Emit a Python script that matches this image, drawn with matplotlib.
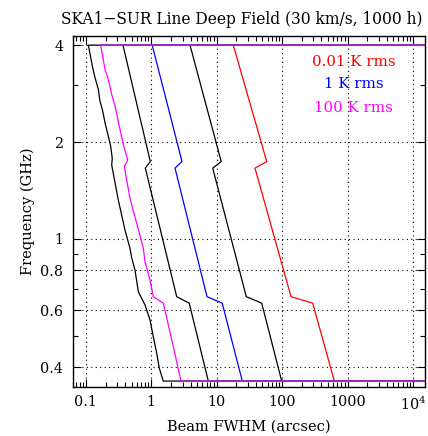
import numpy as np
import matplotlib.pyplot as plt
from matplotlib.ticker import FixedLocator, NullFormatter

plt.rcParams['font.family'] = ['DejaVu Serif']
plt.rcParams['mathtext.fontset'] = 'dejavuserif'

# frequency band edges (GHz)
f_min, f_max = 0.362, 4.0
x_edge = 1e5   # curves run off to the right edge at the band limits

# leftmost black curve and the 100 K rms curve (noisy, more samples)
freq_b1 = [4.0, 3.401, 3.167, 2.915, 2.682, 2.496, 2.296, 2.088, 1.944, 1.780, 1.697,
           1.321, 1.066, 0.936, 0.873, 0.801, 0.686, 0.624, 0.561, 0.497, 0.442, 0.397, 0.362]
beam_b1 = [0.109, 0.127, 0.138, 0.155, 0.164, 0.181, 0.196, 0.220, 0.239, 0.253, 0.248,
           0.313, 0.396, 0.472, 0.502, 0.563, 0.633, 0.801, 0.955, 1.073, 1.209, 1.325, 1.526]

freq_100k = [4.0, 3.363, 3.131, 2.812, 2.587, 2.242, 1.968, 1.759, 1.676, 1.338, 1.119,
             0.936, 0.850, 0.746, 0.662, 0.632, 0.463, 0.362]
beam_100k = [0.168, 0.196, 0.220, 0.248, 0.279, 0.324, 0.373, 0.436, 0.387, 0.472, 0.598,
             0.755, 0.801, 0.955, 1.073, 1.526, 2.17, 2.845]

# smoother curves, sampled at the sub-band edges
freq_band = [4.0, 1.74, 1.66, 0.662, 0.632, 0.362]
beam_b2 = [0.369, 0.965, 0.810, 2.446, 3.798, 7.44]
beam_1k = [1.032, 2.946, 2.304, 7.108, 12.14, 24.63]
beam_b3 = [3.906, 11.72, 8.687, 28.35, 48.76, 98.6]
beam_001k = [17.94, 58.15, 38.5, 136.8, 293.7, 628.5]

xticks = [0.1, 1, 10, 100, 1000, 1e4]
xticklabels = ['0.1', '1', '10', '100', '1000', r'$10^4$']
yticks = [0.4, 0.6, 0.8, 1, 2, 4]
yticklabels = ['0.4', '0.6', '0.8', '1', '2', '4']


def closed(beam, freq):
    # add the horizontal runs to the right edge at the band limits
    x = np.concatenate([[x_edge], beam, [x_edge]])
    y = np.concatenate([[freq[0]], freq, [freq[-1]]])
    return x, y


fig = plt.figure(figsize=(4.28, 4.36), dpi=100)
ax = fig.add_axes([73/428, 1-387/436, 352/428, 351/436])

for beam, freq, col in [(beam_b1, freq_b1, 'black'),
                        (beam_b2, freq_band, 'black'),
                        (beam_b3, freq_band, 'black'),
                        (beam_001k, freq_band, 'red'),
                        (beam_1k, freq_band, 'blue'),
                        (beam_100k, freq_100k, 'magenta')]:
    x, y = closed(beam, freq)
    ax.plot(x, y, color=col, lw=0.9)

# overlapping band-edge runs look purple
ax.plot([beam_100k[0], x_edge], [f_max, f_max], color='#9a30c0', lw=1.2)
ax.plot([beam_100k[-1], x_edge], [f_min, f_min], color='#9a30c0', lw=1.2)

ax.set_xscale('log')
ax.set_yscale('log')
ax.set_xlim(0.0635, 15300)
ax.set_ylim(0.347, 4.27)

ax.xaxis.set_major_locator(FixedLocator(xticks))
ax.set_xticklabels(xticklabels)
xminor = [m * 10.0**e for e in range(-2, 5) for m in range(2, 10)]
ax.xaxis.set_minor_locator(FixedLocator(xminor))
ax.xaxis.set_minor_formatter(NullFormatter())

ax.yaxis.set_major_locator(FixedLocator(yticks))
ax.set_yticklabels(yticklabels)
ax.yaxis.set_minor_locator(FixedLocator([0.5, 0.7, 0.9, 3]))
ax.yaxis.set_minor_formatter(NullFormatter())

ax.tick_params(which='both', direction='in', top=True, right=True, labelsize=10.3)
ax.tick_params(which='major', length=6, width=0.8)
ax.tick_params(which='minor', length=3.5, width=0.8)
ax.tick_params(axis='x', pad=6)
ax.tick_params(axis='y', pad=7)

ax.grid(True, which='major', color='black', linestyle=(0, (1, 3)), lw=0.8)
for s in ax.spines.values():
    s.set_linewidth(1.0)

ax.set_xlabel('Beam FWHM (arcsec)', fontsize=10.5, labelpad=5)
ax.set_ylabel('Frequency (GHz)', fontsize=10.5, labelpad=4)

fig.text(242/428, 1-19/436, 'SKA1\u2212SUR Line Deep Field (30 km/s, 1000 h)',
         ha='center', va='center', fontsize=11.2)

ax.text(0.798, 0.926, '0.01 K rms', color='red', ha='center', va='center',
        transform=ax.transAxes, fontsize=10.8)
ax.text(0.798, 0.863, '1 K rms', color='blue', ha='center', va='center',
        transform=ax.transAxes, fontsize=10.8)
ax.text(0.798, 0.795, '100 K rms', color='magenta', ha='center', va='center',
        transform=ax.transAxes, fontsize=10.8)

fig.savefig('out.png', dpi=100)
plt.close(fig)
